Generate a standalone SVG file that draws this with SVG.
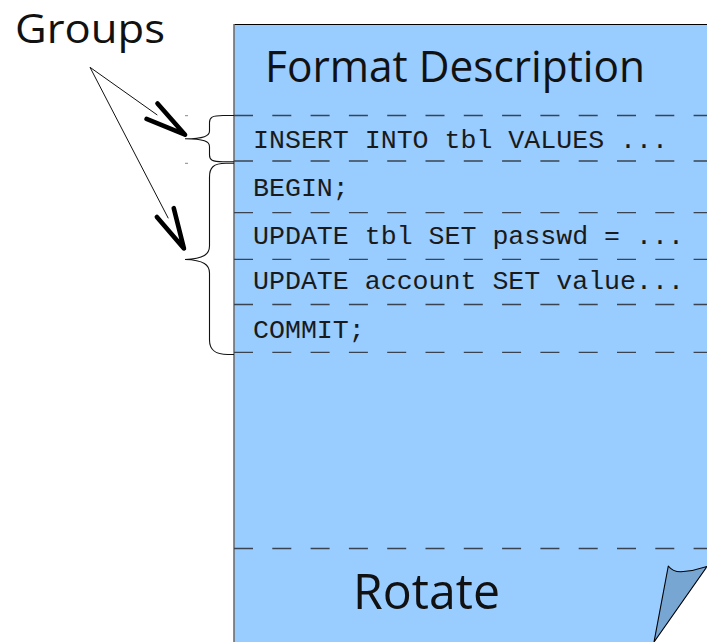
<svg xmlns="http://www.w3.org/2000/svg" width="707" height="642" viewBox="0 0 707 642">
  <style>
    .hand { font-family: "Comic Sans MS", "Open Sans", sans-serif; fill: #111; }
    .mono { font-family: "Liberation Mono", "DejaVu Sans Mono", monospace; font-size: 26.6px; fill: #1a1a1a; }
    .sep { stroke: #3a4450; stroke-width: 1.3; stroke-dasharray: 19 19.3; fill: none; }
    .brace { stroke: #111; stroke-width: 1.1; fill: none; }
    .pointer { stroke: #111; stroke-width: 1; fill: none; }
    .tick { stroke: #888; stroke-width: 1; }
  </style>
  <defs>
    <marker id="vhead" markerUnits="userSpaceOnUse" orient="auto" refX="0" refY="0"
            markerWidth="80" markerHeight="40" viewBox="-20 -20 80 40" overflow="visible">
      <path d="M-6.5,-9.5 L34,0 L-6.5,9.5" fill="none" stroke="#000" stroke-width="4.6"
            stroke-linecap="round" stroke-linejoin="round"/>
    </marker>
  </defs>

  <rect width="707" height="642" fill="#fff"/>

  <!-- the log page -->
  <g id="page">
    <path d="M234,24 H707 V567 L654,642 H234 Z" fill="#99ccff"/>
    <line x1="234" y1="24.5" x2="707" y2="24.5" stroke="#000" stroke-width="1"/>
    <line x1="234" y1="24" x2="234" y2="642" stroke="#6e6e6e" stroke-width="1.6"/>
    <text class="hand" x="265" y="81.7" font-size="44" textLength="380" lengthAdjust="spacingAndGlyphs">Format Description</text>
    <path class="sep" d="M234,115.5 H707"/>
    <path class="sep" d="M234,161 H707"/>
    <path class="sep" d="M234,212.7 H707"/>
    <path class="sep" d="M234,259.3 H707"/>
    <path class="sep" d="M234,304.5 H707"/>
    <path class="sep" d="M234,352.3 H707"/>
    <path class="sep" d="M234,548.5 H707"/>
    <text class="hand" x="353" y="609.3" font-size="50" textLength="147" lengthAdjust="spacingAndGlyphs">Rotate</text>
    <!-- curled corner -->
    <path d="M668.3,566 Q673,572 681,571.8 Q694,571 707,566.5 L654,642 Z" fill="#78a6d2" stroke="#000" stroke-width="1.1" stroke-linejoin="round"/>
  </g>

  <!-- log records -->
  <g id="records">
    <text class="mono" x="253" y="147.5">INSERT INTO tbl VALUES ...</text>
    <text class="mono" x="253" y="196">BEGIN;</text>
    <text class="mono" x="253" y="244.3">UPDATE tbl SET passwd = ...</text>
    <text class="mono" x="253" y="289.3">UPDATE account SET value...</text>
    <text class="mono" x="253" y="338.3">COMMIT;</text>
  </g>

  <!-- group braces -->
  <g id="brace-single">
    <path class="brace" d="M234,115.5 H223 C212,115.5 209.5,117.5 209.5,122.5 V131 C209.5,136 204,138.6 185,138.8 C204,139 209.5,141.5 209.5,146.5 V155 C209.5,160 212,161.7 223,161.7 H234"/>
    <line class="tick" x1="185" y1="115.7" x2="188" y2="115.7"/>
  </g>
  <g id="brace-transaction">
    <path class="brace" d="M234,163.3 H226 C213,163.3 209.5,168 209.5,177 V246 C209.5,254 204,259 185,259.5 C204,260 209.5,265 209.5,273 V340 C209.5,349 214,354.5 228,354.5 H234"/>
    <line class="tick" x1="185" y1="163.3" x2="188" y2="163.3"/>
  </g>

  <g id="groups-label">
    <text class="hand" x="15" y="43.3" font-size="41" textLength="150" lengthAdjust="spacingAndGlyphs">Groups</text>
  </g>

  <!-- pointers from the label to each brace -->
  <g id="connectors">
    <path class="pointer" d="M90,67.3 L157.3,115" marker-end="url(#vhead)"/>
    <path class="pointer" d="M90,67.3 L168.3,218.3" marker-end="url(#vhead)"/>
  </g>
</svg>
